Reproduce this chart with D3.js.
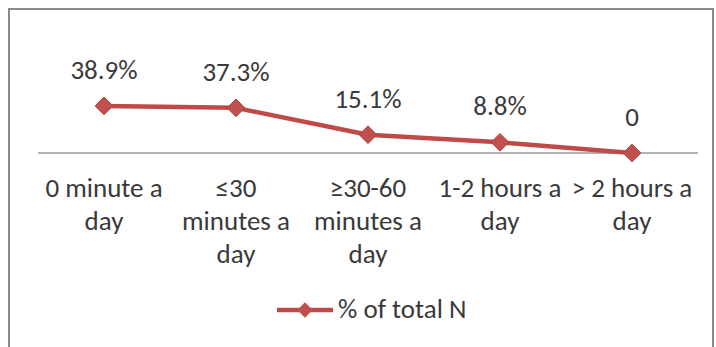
<!DOCTYPE html>
<html>
<head>
<meta charset="utf-8">
<script src="https://cdn.jsdelivr.net/npm/d3@7"></script>
<style>
  html, body { margin: 0; padding: 0; background: #fff; }
  svg { display: block; }
  text { font-family: Carlito, Calibri, "Open Sans", sans-serif; fill: #3a3a3a; }
</style>
</head>
<body>
<svg id="chart" width="716" height="347"></svg>
<script>
// Daily time categories and share of respondents (%)
const categories = [
  ["0 minute a", "day"],
  ["\u226430", "minutes a", "day"],
  ["\u226530-60", "minutes a", "day"],
  ["1-2 hours a", "day"],
  ["> 2 hours a", "day"]
];
const values = [38.9, 37.3, 15.1, 8.8, 0];
const valueLabels = ["38.9%", "37.3%", "15.1%", "8.8%", "0"];
const seriesName = "% of total N";

const lineColor = "#be4b48";
const fontSize = 27;
const svg = d3.select("#chart");

// chart frame
svg.append("rect")
  .attr("x", 9).attr("y", 9)
  .attr("width", 704).attr("height", 345)
  .attr("fill", "#fff")
  .attr("stroke", "#8a8a8a").attr("stroke-width", 2);

const x = d3.scaleBand()
  .domain(d3.range(categories.length))
  .range([38, 698]);
const y = d3.scaleLinear().domain([0, 100]).range([153, 32]);

// horizontal category axis
svg.append("line")
  .attr("x1", x.range()[0]).attr("x2", x.range()[1])
  .attr("y1", y(0)).attr("y2", y(0))
  .attr("stroke", "#9a9a9a").attr("stroke-width", 1.3);

const cx = i => x(i) + x.bandwidth() / 2;

// category labels, wrapped over several lines
const catG = svg.append("g");
categories.forEach((lines, i) => {
  const t = catG.append("text")
    .attr("x", cx(i)).attr("y", 197)
    .attr("text-anchor", "middle")
    .attr("font-size", fontSize);
  lines.forEach((ln, k) => {
    t.append("tspan").attr("x", cx(i)).attr("dy", k === 0 ? 0 : 33).text(ln);
  });
});

// series line
const line = d3.line().x((d, i) => cx(i)).y(d => y(d));
svg.append("path")
  .datum(values)
  .attr("d", line)
  .attr("fill", "none")
  .attr("stroke", lineColor)
  .attr("stroke-width", 4.5)
  .attr("stroke-linejoin", "round");

// diamond markers
const diamond = d3.symbol().type(d3.symbolDiamond2).size(200);
svg.append("g").selectAll("path")
  .data(values)
  .join("path")
  .attr("d", diamond)
  .attr("transform", (d, i) => `translate(${cx(i)},${y(d)})`)
  .attr("fill", "#c0504d")
  .attr("stroke", "#b04340").attr("stroke-width", 1);

// value labels above markers
svg.append("g").selectAll("text")
  .data(values)
  .join("text")
  .attr("x", (d, i) => cx(i))
  .attr("y", d => y(d) - 27)
  .attr("text-anchor", "middle")
  .attr("font-size", fontSize)
  .text((d, i) => valueLabels[i]);

// legend
const lg = svg.append("g").attr("transform", "translate(277,310)");
lg.append("line")
  .attr("x1", 0).attr("x2", 56).attr("y1", 0).attr("y2", 0)
  .attr("stroke", lineColor).attr("stroke-width", 4.5);
lg.append("path")
  .attr("d", d3.symbol().type(d3.symbolDiamond2).size(150))
  .attr("transform", "translate(28,0)")
  .attr("fill", "#c0504d");
lg.append("text")
  .attr("x", 61).attr("y", 8)
  .attr("font-size", fontSize)
  .text(seriesName);
</script>
</body>
</html>
